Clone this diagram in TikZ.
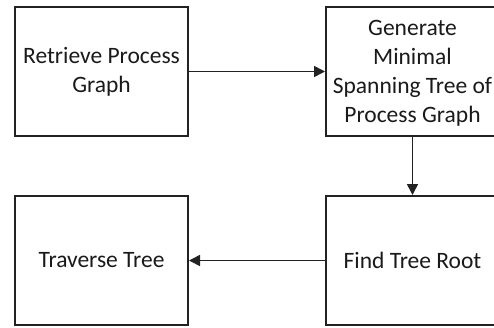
\documentclass[tikz,border=0pt]{standalone}
\usepackage{fontspec}
\setmainfont{Carlito}
\usepackage{tikz}
\usetikzlibrary{arrows.meta, positioning}
\definecolor{Ink}{HTML}{1A1A1A}
\definecolor{Edge}{HTML}{222222}

\begin{document}
\begin{tikzpicture}[
  x=1pt, y=-1pt,
  font=\fontsize{23.5}{29}\selectfont,
  task/.style={draw=Edge, line width=2pt, fill=white, text=Ink, align=center, minimum width=173pt, minimum height=129pt, inner sep=4pt},
  arrow/.style={-{Triangle[length=11pt, width=11pt]}, line width=1.6pt, draw=Edge}
]
\useasboundingbox (0,0) rectangle (494,327);
\node[task] (retrieve) at (101.5,71.5) {Retrieve Process\\Graph};
\node[task, text depth=-5pt] (spanning) at (412.5,71.5) {Generate\\Minimal\\Spanning Tree of\\Process Graph};
\node[task] (root) at (412.5,260.5) {Find Tree Root};
\node[task] (traverse) at (101.5,260.5) {Traverse Tree};

\draw[arrow] (retrieve) -- (spanning);
\draw[arrow] (spanning) -- (root);
\draw[arrow] (root) -- (traverse);
\end{tikzpicture}
\end{document}
